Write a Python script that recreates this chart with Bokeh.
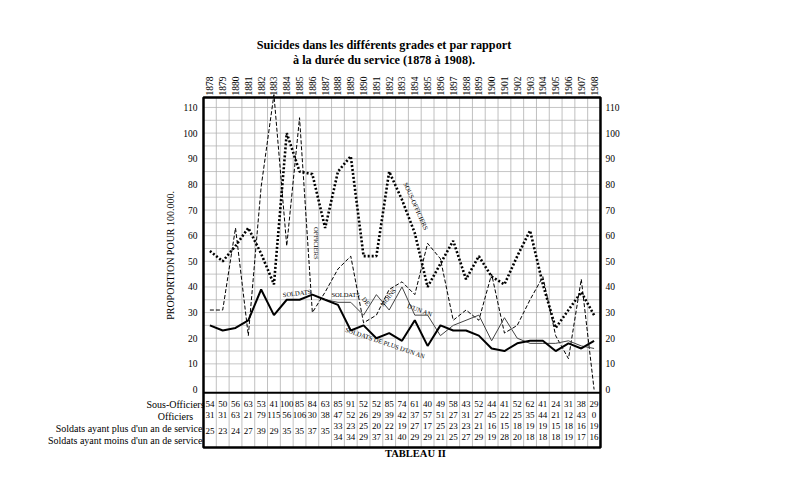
import math
from bokeh.plotting import figure
from bokeh.models import Range1d
from bokeh.embed import file_html
from bokeh.resources import INLINE
from bokeh.core.properties import value

# ---------------- data ----------------
years = list(range(1878, 1909))
sous_officiers = [54, 50, 56, 63, 53, 41, 100, 85, 84, 63, 85, 91, 52, 52, 85, 74,
                  61, 40, 49, 58, 43, 52, 44, 41, 52, 62, 41, 24, 31, 38, 29]
officiers = [31, 31, 63, 21, 79, 115, 56, 106, 30, 38, 47, 52, 26, 29, 39, 42,
             37, 57, 51, 27, 31, 27, 45, 22, 25, 35, 44, 21, 12, 43, 0]
soldats_years = list(range(1878, 1888))
soldats = [25, 23, 24, 27, 39, 29, 35, 35, 37, 35]
split_years = list(range(1888, 1909))
soldats_plus = [33, 23, 25, 20, 22, 19, 27, 17, 25, 23, 23, 21, 16, 15, 18, 19, 19, 15, 18, 16, 19]
soldats_moins = [34, 34, 29, 37, 31, 40, 29, 29, 21, 25, 27, 29, 19, 28, 20, 18, 18, 18, 19, 17, 16]
y_ticks = list(range(0, 111, 10))
year_labels = [str(y) for y in years]
row_labels = ["Sous-Officiers", "Officiers",
              "Soldats ayant plus d'un an de service",
              "Soldats ayant moins d'un an de service"]
title_lines = ["Suicides dans les différents grades et par rapport",
               "à la durée du service (1878 à 1908)."]
y_title = "PROPORTION POUR 100.000."
caption = "TABLEAU II"

# ---------------- layout / style ----------------
W, H = 784, 485
PX_X = 12.806           # pixels per year
PX_Y = 2.564            # pixels per unit
ORIG_X, ORIG_Y = 203, 389
XS = 1877.5 - ORIG_X / PX_X
YS = ORIG_Y / PX_Y
X0, X1 = 1877.5, 1908.5          # chart box
Y0, Y1 = -22.6, 113.9
SERIF = "Liberation Serif"
ROW_Y = [-5.85, -9.95, -14.2, -18.5]
MERGED_Y = -16.3
TABLE_TOP = -1.3

p = figure(width=W, height=H,
           x_range=Range1d(XS, XS + W / PX_X), y_range=Range1d(YS - H / PX_Y, YS),
           x_axis_location=None, y_axis_location=None,
           output_backend="svg", toolbar_location=None,
           min_border=0)
p.background_fill_color = "white"
p.border_fill_color = "white"
p.outline_line_color = None
p.xgrid.visible = False
p.ygrid.visible = False

# grid
hy = [v for v in range(5, 111, 5)]
p.segment(x0=[X0] * len(hy), y0=hy, x1=[X1] * len(hy), y1=hy, line_color="#b8b8b8", line_width=0.8)
vx = [y + 0.5 for y in years[:-1]]
p.segment(x0=vx, y0=[Y0] * len(vx), x1=vx, y1=[Y1] * len(vx), line_color="#b0b0b0", line_width=0.8)
p.segment(x0=[X0], y0=[TABLE_TOP], x1=[X1], y1=[TABLE_TOP], line_color="black", line_width=2)
p.quad(left=[X0], right=[X1], bottom=[Y0], top=[Y1], fill_color=None,
       line_color="black", line_width=2.5)

# axis tick labels
lab = dict(text_font=value(SERIF), text_font_size="9.5px", text_color="black", text_baseline="middle")
p.text(x=years, y=[Y1 + 0.8] * len(years), text=year_labels, angle=math.pi / 2,
       text_align="left", **lab)
p.text(x=[X0 - 6 / PX_X] * len(y_ticks), y=y_ticks, text=[str(v) for v in y_ticks],
       text_align="right", **lab)
p.text(x=[X1 + 5 / PX_X] * len(y_ticks), y=y_ticks, text=[str(v) for v in y_ticks],
       text_align="left", **lab)

# series
p.line(years, officiers, line_color="black", line_width=1, line_dash="4 2")
p.line([soldats_years[-1]] + split_years, [soldats[-1]] + soldats_moins, line_color="#444444", line_width=1)
p.line(soldats_years, soldats, line_color="black", line_width=2)
p.line([soldats_years[-1]] + split_years, [soldats[-1]] + soldats_plus, line_color="black", line_width=2)
p.line(years, sous_officiers, line_color="black", line_width=2.6, line_dash="2 2")

# table numbers
tfont = dict(text_font=value(SERIF), text_font_size="9px", text_align="center",
             text_baseline="middle", text_color="black")
p.text(x=years, y=[ROW_Y[0]] * len(years), text=[str(v) for v in sous_officiers], **tfont)
p.text(x=years, y=[ROW_Y[1]] * len(years), text=[str(v) for v in officiers], **tfont)
p.text(x=soldats_years, y=[MERGED_Y] * len(soldats_years), text=[str(v) for v in soldats], **tfont)
p.text(x=split_years, y=[ROW_Y[2]] * len(split_years), text=[str(v) for v in soldats_plus], **tfont)
p.text(x=split_years, y=[ROW_Y[3]] * len(split_years), text=[str(v) for v in soldats_moins], **tfont)

# row labels left of the table
row_x = [X0 - 28 / PX_X, X0 - 28 / PX_X, X0 - 1 / PX_X, X0 - 1 / PX_X]
row_y = [-5.9, -10.6, -15.3, -19.9]
row_al = ["center", "center", "right", "right"]
for lx, ly, al, txt in zip(row_x, row_y, row_al, row_labels):
    p.text(x=[lx], y=[ly], text=[txt], text_align=al, text_baseline="middle",
           text_font=value(SERIF), text_font_size="10px", text_color="black")

# titles and captions
for ty, txt in zip([134.2, 128.7], title_lines):
    p.text(x=[1891.6], y=[ty], text=[txt], text_align="center", text_baseline="middle",
           text_font=value(SERIF), text_font_size="12.2px", text_font_style="bold",
           text_color="black")
p.text(x=[X0 - 33 / PX_X], y=[52.3], text=[y_title], angle=math.pi / 2, text_align="center",
       text_baseline="middle", text_font=value(SERIF), text_font_size="10px", text_color="black")
p.text(x=[1894.05], y=[-24.8], text=[caption], text_align="center", text_baseline="middle",
       text_font=value(SERIF), text_font_size="10.5px", text_font_style="bold", text_color="black")

# in-chart line labels
line_labels = [
    ("SOLDATS", 1884.8, 37.6, 0.12),
    ("SOLDATS", 1888.6, 37.0, 0.0),
    ("DE", 1890.2, 34.5, -0.9),
    ("MOINS", 1891.9, 36.0, 0.9),
    ("D'UN AN", 1894.4, 31.0, -0.35),
    ("SOLDATS DE PLUS D'UN AN", 1891.7, 18.2, -0.33),
    ("SOUS-OFFICIERS", 1894.1, 71.5, -1.15),
    ("OFFICIERS", 1886.3, 57.0, -math.pi / 2),
]
for txt, lx, ly, ang in line_labels:
    p.text(x=[lx], y=[ly], text=[txt], angle=ang, text_align="center", text_baseline="middle",
           text_font=value(SERIF), text_font_size="6.5px", text_color="black")

open("out.html", "w").write(file_html(p, INLINE))
